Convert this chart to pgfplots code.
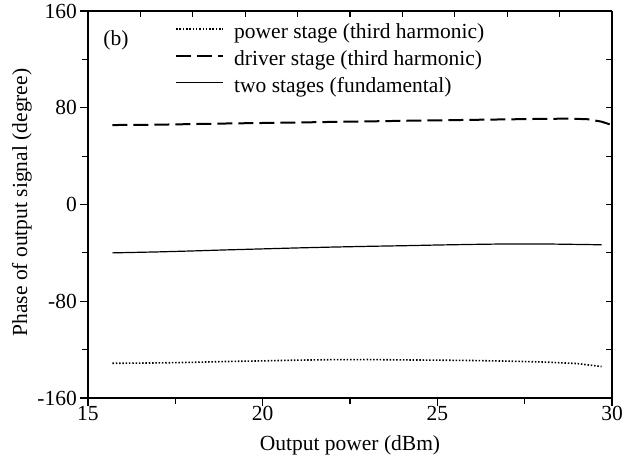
\documentclass[border=0pt]{standalone}
\usepackage{pgfplots}
\pgfplotsset{compat=1.18}
\usepackage{fontspec}
\setmainfont{Liberation Serif}
\begin{document}
\begin{tikzpicture}
\begin{axis}[
 at={(0,0)}, anchor=south west,
 scale only axis, width=524bp, height=387bp,
 xmin=15, xmax=30, ymin=-160, ymax=160,
 axis x line*=bottom, axis y line*=left,
 axis line style={line width=1.3bp, -},
 xtick={15,20,25,30}, xticklabels={15,20,25,30},
 minor xtick={17.5,22.5,27.5},
 ytick={-160,-80,0,80,160}, yticklabels={-160,-80,0,80,160},
 minor ytick={-120,-40,40,120},
 tick align=outside,
 major tick length=8bp, minor tick length=6bp,
 tick style={line width=1.2bp, black},
 font=\fontsize{21.5bp}{25bp}\selectfont,
 xticklabel style={inner sep=0pt},
 yticklabel style={inner sep=0pt, xshift=-3bp},
 xlabel={Output power (dBm)},
 ylabel={Phase of output signal (degree)},
 xlabel style={at={(axis description cs:0.5,0)}, anchor=base, inner sep=0pt, yshift=-52bp},
 ylabel style={at={(axis description cs:-0.107,0.505)}, anchor=south, inner sep=0pt},
 legend cell align=left,
 legend image code/.code={\draw[#1] (0bp,5bp) -- (47bp,5bp);},
 legend style={at={(axis description cs:0.166,0.967)}, anchor=north west, draw=none, fill=none,
   inner sep=0pt, row sep=6.75bp, font=\fontsize{21.5bp}{25bp}\selectfont,
   nodes={inner sep=0pt, text height=15bp, text depth=5bp},
   /tikz/every odd column/.append style={column sep=10bp}},
]
\addplot[black, line width=1.6bp, dash pattern=on 1.5bp off 1.8bp] coordinates {
 (15.7,-131.3) (17,-131) (18,-130.5) (19,-129.8) (20,-129.3) (21,-128.7) (22,-128.3) (23,-128.2) (24,-128.5)
 (25,-128.7) (26,-129) (27,-129.5) (28,-130.2) (29,-131.5) (29.7,-134)
};
\addlegendentry{power stage (third harmonic)}
\addplot[black, line width=2bp, dash pattern=on 15bp off 6bp] coordinates {
 (15.7,65.7) (17,66) (18,66.5) (19,67) (20,67.4) (21,67.8) (22,68.3) (23,68.7) (24,69.2)
 (25,69.6) (26,70) (27,70.4) (28,70.8) (28.8,71) (29.3,70.5) (29.7,68.5) (30,65.7)
};
\addlegendentry{driver stage (third harmonic)}
\addplot[black, line width=1.2bp] coordinates {
 (15.7,-40) (17,-39.2) (18,-38.4) (19,-37.5) (20,-36.7) (21,-35.9) (22,-35.2) (23,-34.6) (24,-34.1)
 (25,-33.5) (26,-33) (27,-32.6) (28,-32.6) (29,-33) (29.7,-33.3)
};
\addlegendentry{two stages (fundamental)}
\node[font=\fontsize{21.5bp}{25bp}\selectfont] at (axis cs:15.8,136) {(b)};
\end{axis}
\begin{axis}[
 at={(0,0)}, anchor=south west,
 scale only axis, width=524bp, height=387bp,
 xmin=15, xmax=30, ymin=-160, ymax=160,
 axis x line*=top, axis y line*=right,
 axis line style={line width=1.3bp, -},
 xtick={16.5,18,19.5,21,22.5,24,25.5,27,28.5}, xticklabels={},
 ytick={-120,-80,-40,0,40,80,120}, yticklabels={},
 tick align=inside, major tick length=6bp,
 tick style={line width=1.2bp, black},
]
\end{axis}
\pgfresetboundingbox
\path (-88bp,-60bp) rectangle (547bp,398bp);
\end{tikzpicture}
\end{document}
